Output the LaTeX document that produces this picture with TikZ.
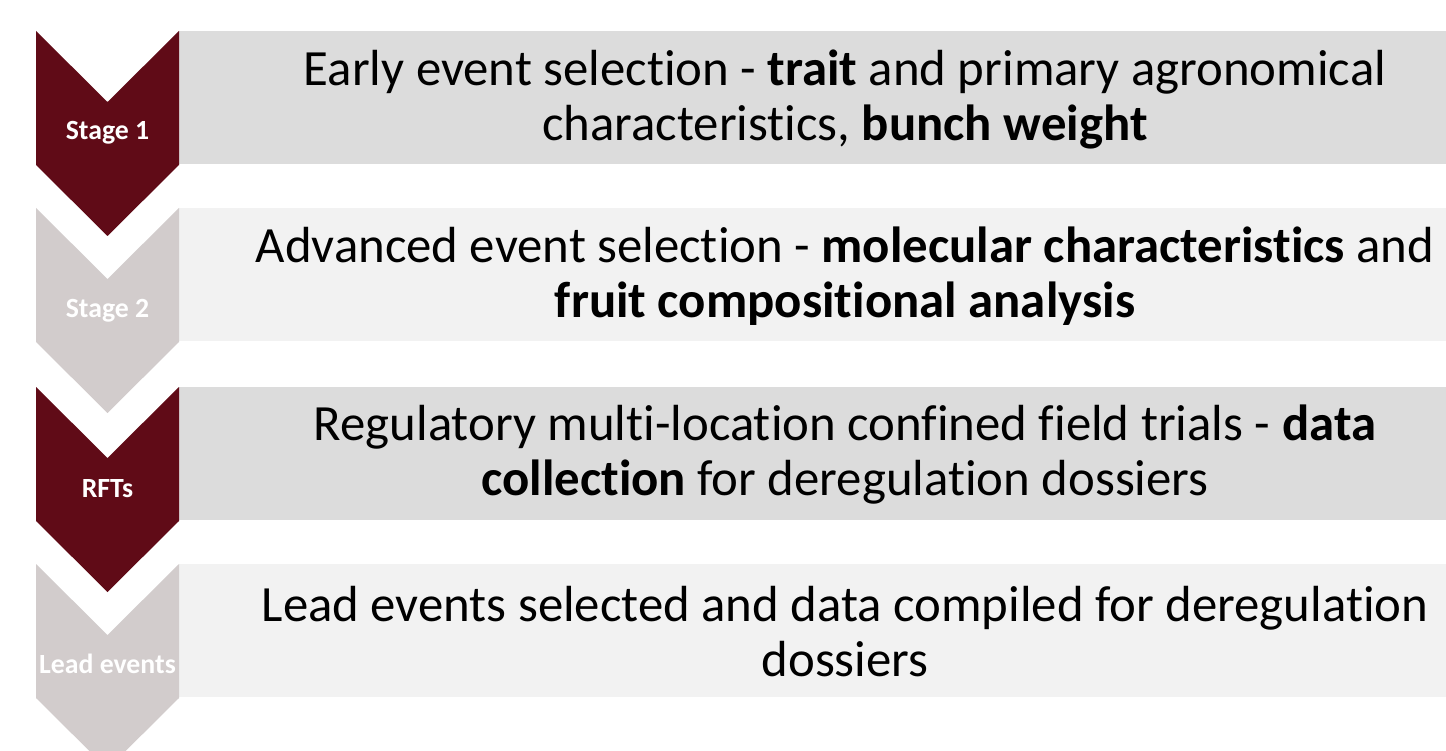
\documentclass[tikz,border=0pt]{standalone}
\usepackage{fontspec}
\setmainfont{Carlito}[Ligatures=CommonOff]

\definecolor{maroon}{HTML}{600B17}
\definecolor{ashgray}{HTML}{D2CCCC}
\definecolor{panelmid}{HTML}{DCDCDC}
\definecolor{panellight}{HTML}{F2F2F2}

\tikzset{
  stagelabel/.style={text=white, font=\fontsize{15.8}{18}\selectfont\bfseries, anchor=base},
  stagetext/.style={align=center, font=\fontsize{28.9}{31.3}\selectfont}
}

\begin{document}
\begin{tikzpicture}
	\useasboundingbox (0,0) rectangle (28.92,15);

	% Stage 1
	\fill[panelmid] (3.58,14.38) rectangle (28.92,11.72);
	\fill[maroon] (0.72,14.38) -- (2.15,12.96) -- (3.58,14.38) -- (3.58,11.70) -- (2.15,10.28) -- (0.72,11.70) -- cycle;
	\node[stagelabel] (lbl1) at (2.15,12.2) {Stage 1};
	\node[stagetext] (txt1) at (16.9,13.02) {Early event selection - \textbf{trait} and primary agronomical\\characteristics, \textbf{bunch weight}};

	% Stage 2
	\fill[panellight] (3.58,10.84) rectangle (28.92,8.18);
	\fill[ashgray] (0.72,10.84) -- (2.15,9.42) -- (3.58,10.84) -- (3.58,8.16) -- (2.15,6.74) -- (0.72,8.16) -- cycle;
	\node[stagelabel] (lbl2) at (2.15,8.66) {Stage 2};
	\node[stagetext] (txt2) at (16.9,9.48) {Advanced event selection - \textbf{molecular characteristics} and\\\textbf{fruit compositional analysis}};

	% RFTs
	\fill[panelmid] (3.58,7.26) rectangle (28.92,4.60);
	\fill[maroon] (0.72,7.26) -- (2.15,5.84) -- (3.58,7.26) -- (3.58,4.58) -- (2.15,3.16) -- (0.72,4.58) -- cycle;
	\node[stagelabel] (lbl3) at (2.15,5.06) {RFTs};
	\node[stagetext] (txt3) at (16.9,5.90) {Regulatory multi-location confined field trials - \textbf{data}\\\textbf{collection} for deregulation dossiers};

	% Lead events
	\fill[panellight] (3.58,3.72) rectangle (28.92,1.06);
	\fill[ashgray] (0.72,3.72) -- (2.15,2.30) -- (3.58,3.72) -- (3.58,1.04) -- (2.15,-0.38) -- (0.72,1.04) -- cycle;
	\node[stagelabel] (lbl4) at (2.15,1.54) {Lead events};
	\node[stagetext] (txt4) at (16.9,2.36) {Lead events selected and data compiled for deregulation\\dossiers};
\end{tikzpicture}
\end{document}
